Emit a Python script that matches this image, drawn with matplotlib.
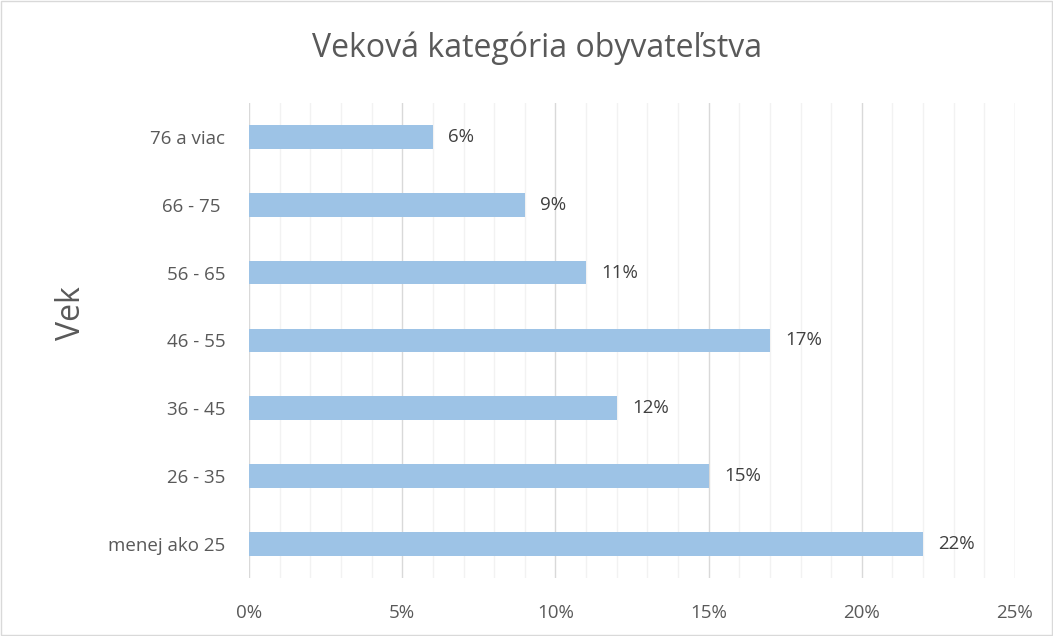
import matplotlib
matplotlib.use("Agg")
import matplotlib.pyplot as plt
from matplotlib.ticker import MultipleLocator, FuncFormatter
from matplotlib.patches import Rectangle

categories = ["menej ako 25", "26 - 35", "36 - 45", "46 - 55", "56 - 65", "66 - 75 ", "76 a viac"]
values = [22, 15, 12, 17, 11, 9, 6]
xticks = [0, 5, 10, 15, 20, 25]

plt.rcParams['font.family'] = ['Open Sans', 'DejaVu Sans']
text_color = "#595959"

fig = plt.figure(figsize=(10.53, 6.36), dpi=100)
fig.patches.append(Rectangle((0.001, 0.001), 0.998, 0.997, transform=fig.transFigure,
                             fill=False, edgecolor="#d9d9d9", linewidth=1))
ax = fig.add_axes([0.2365, 0.0912, 0.7274, 0.747])

ypos = list(range(len(categories)))
ax.barh(ypos, values, height=0.35, color="#9dc3e6", zorder=3)
for y, v in zip(ypos, values):
    ax.text(v + 0.5, y, f"{v}%", va="center", ha="left", fontsize=13.5, color="#404040")

ax.set_xlim(0, 25)
ax.set_ylim(-0.5, len(categories) - 0.5)
ax.set_yticks(ypos)
ax.set_yticklabels(categories, fontsize=13.5, color=text_color)
ax.set_xticks(xticks)
ax.xaxis.set_major_formatter(FuncFormatter(lambda x, p: f"{int(x)}%"))
ax.xaxis.set_minor_locator(MultipleLocator(1))
ax.tick_params(axis="x", labelsize=13.5, colors=text_color, length=0, pad=19, which="both")
ax.tick_params(axis="y", length=0, pad=17)
ax.grid(axis="x", which="minor", color="#f2f2f2", linewidth=1, zorder=0)
ax.grid(axis="x", which="major", color="#d9d9d9", linewidth=1, zorder=1)
for s in ax.spines.values():
    s.set_visible(False)

fig.text(0.068, 1 - 313 / 636, "Vek", rotation=90, ha="center", va="center",
         fontsize=23, color=text_color)
fig.text(0.51, 1 - 48 / 636, "Veková kategória obyvateľstva", ha="center", va="center",
         fontsize=23, color=text_color)

fig.savefig("out.png", dpi=100)
